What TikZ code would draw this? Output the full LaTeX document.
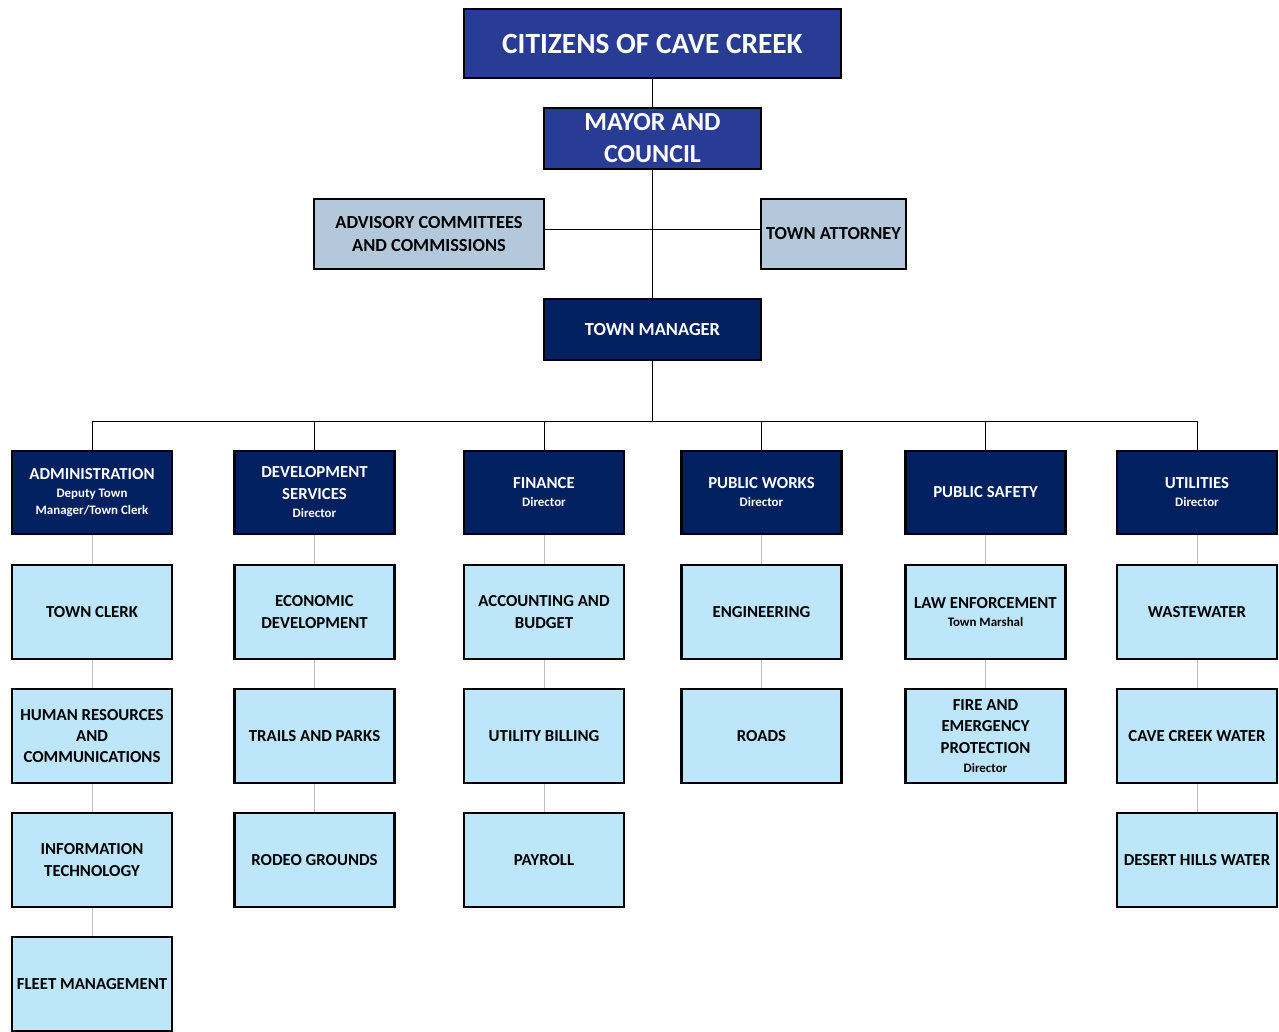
\documentclass[tikz,border=0pt]{standalone}
\usepackage{fontspec}
\setmainfont{Carlito}
\usetikzlibrary{positioning}
\definecolor{ccRoyal}{HTML}{283C96}
\definecolor{ccNavy}{HTML}{002060}
\definecolor{ccSteel}{HTML}{B4C8DC}
\definecolor{ccSky}{HTML}{BDE6FA}
\definecolor{ccGrey}{HTML}{BFBFBF}
\newcommand{\rolelbl}[1]{{\fontsize{9.7}{12}\selectfont #1}}
\tikzset{
  box/.style 2 args = {draw=black, line width=1.6pt, inner sep=1pt, align=center,
                       minimum width=#1, minimum height=#2},
  topbox/.style     = {box={282.75pt}{51.75pt}, fill=ccRoyal, text=white,
                       font=\bfseries\fontsize{22}{26}\selectfont},
  mayorbox/.style   = {box={162.75pt}{45.75pt}, fill=ccRoyal, text=white,
                       font=\bfseries\fontsize{19.5}{24}\selectfont},
  sidebox/.style    = {fill=ccSteel, font=\bfseries\fontsize{13.8}{17}\selectfont},
  mgrbox/.style     = {box={162.75pt}{45.75pt}, fill=ccNavy, text=white,
                       font=\bfseries\fontsize{13.8}{17}\selectfont},
  deptbox/.style    = {box={120pt}{62.25pt}, fill=ccNavy, text=white,
                       font=\bfseries\fontsize{12.6}{16.5}\selectfont},
  unitbox/.style    = {box={120pt}{70.5pt}, fill=ccSky,
                       font=\bfseries\fontsize{12.6}{16}\selectfont},
  link/.style       = {black, line width=0.75pt},
  sublink/.style    = {ccGrey, line width=0.75pt},
}
\begin{document}
\begin{tikzpicture}[x=0.75pt,y=-0.75pt]
  \useasboundingbox (0,0) rectangle (1279,1032);
  % top of the chart
  \node[topbox] (cit) at (652.5,43.5) {CITIZENS OF CAVE CREEK};
  \node[mayorbox] (mayor) at (652.5,138.5) {MAYOR AND\\COUNCIL};
  \node[sidebox, box={172.5pt}{52.5pt}] (advis) at (429,234) {ADVISORY COMMITTEES\\AND COMMISSIONS};
  \node[sidebox, box={108.75pt}{52.5pt}] (atty) at (833.5,234) {TOWN ATTORNEY};
  \node[mgrbox] (mgr) at (652.5,329.5) {TOWN MANAGER};
  \draw[link] (cit) -- (mayor);
  \draw[link] (mayor) -- (mgr);
  \draw[link] ([yshift=3.75pt]advis.east) -- ([yshift=3.75pt]atty.west);
  % departments
  \node[deptbox] (admin) at (92,492.5) {ADMINISTRATION\\[-3pt]\rolelbl{Deputy Town}\\[-3.75pt]\rolelbl{Manager/Town Clerk}};
  \node[deptbox] (dev) at (314.5,492.5) {DEVELOPMENT\\SERVICES\\[-3pt]\rolelbl{Director}};
  \node[deptbox] (fin) at (544,492.5) {FINANCE\\[-3pt]\rolelbl{Director}};
  \node[deptbox] (pw) at (761.5,492.5) {PUBLIC WORKS\\[-3pt]\rolelbl{Director}};
  \node[deptbox] (ps) at (985.5,492.5) {PUBLIC SAFETY};
  \node[deptbox] (util) at (1197,492.5) {UTILITIES\\[-3pt]\rolelbl{Director}};
  \coordinate (bus) at (652.5,421);
  \draw[link] (mgr) -- (bus);
  \draw[link] (admin.north |- bus) -- (util.north |- bus);
  \foreach \d in {admin,dev,fin,pw,ps,util}
    \draw[link] (\d) -- (\d.north |- bus);
  % divisions
  \node[unitbox] (clerk) at (92,612) {TOWN CLERK};
  \node[unitbox] (hr) at (92,736) {HUMAN RESOURCES\\AND\\COMMUNICATIONS};
  \node[unitbox] (it) at (92,860) {INFORMATION\\TECHNOLOGY};
  \node[unitbox] (fleet) at (92,984) {FLEET MANAGEMENT};
  \node[unitbox] (econ) at (314.5,612) {ECONOMIC\\DEVELOPMENT};
  \node[unitbox] (trails) at (314.5,736) {TRAILS AND PARKS};
  \node[unitbox] (rodeo) at (314.5,860) {RODEO GROUNDS};
  \node[unitbox] (acct) at (544,612) {ACCOUNTING AND\\BUDGET};
  \node[unitbox] (billing) at (544,736) {UTILITY BILLING};
  \node[unitbox] (payroll) at (544,860) {PAYROLL};
  \node[unitbox] (eng) at (761.5,612) {ENGINEERING};
  \node[unitbox] (roads) at (761.5,736) {ROADS};
  \node[unitbox] (law) at (985.5,612) {LAW ENFORCEMENT\\[-2.5pt]\rolelbl{Town Marshal}};
  \node[unitbox] (fire) at (985.5,736) {FIRE AND\\EMERGENCY\\PROTECTION\\[-1.75pt]\rolelbl{Director}};
  \node[unitbox] (waste) at (1197,612) {WASTEWATER};
  \node[unitbox] (ccwater) at (1197,736) {CAVE CREEK WATER};
  \node[unitbox] (dhwater) at (1197,860) {DESERT HILLS WATER};
  \foreach \a/\b in {admin/clerk, clerk/hr, hr/it, it/fleet, dev/econ, econ/trails,
                     trails/rodeo, fin/acct, acct/billing, billing/payroll, pw/eng,
                     eng/roads, ps/law, law/fire, util/waste, waste/ccwater, ccwater/dhwater}
    \draw[sublink] (\a) -- (\b);
\end{tikzpicture}
\end{document}
